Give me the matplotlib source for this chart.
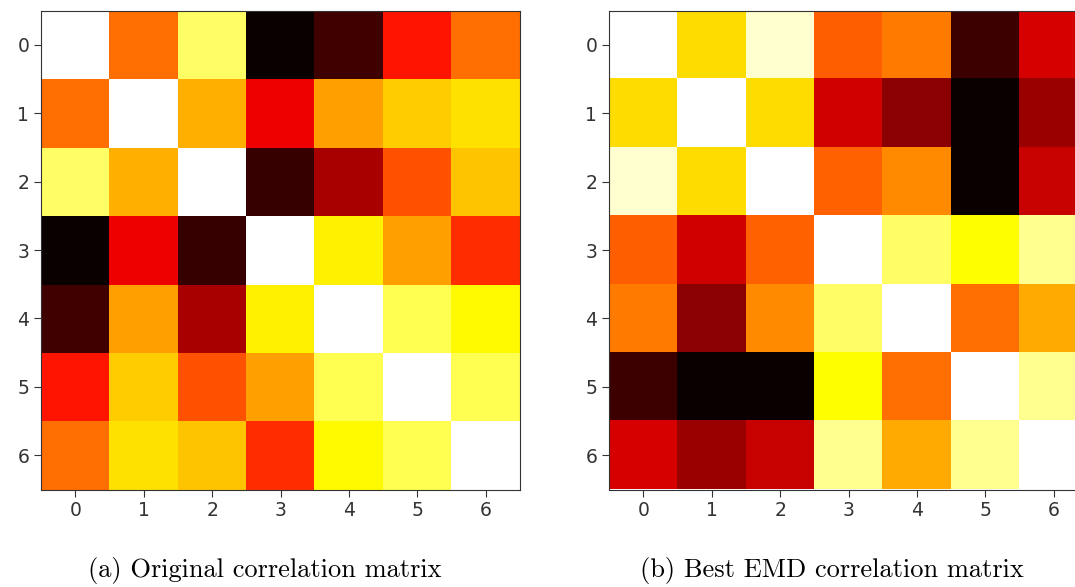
import numpy as np
import matplotlib
matplotlib.use('Agg')
import matplotlib.pyplot as plt

# values (0 = black, 1 = white)
original_corr = [
    [1.00, 0.53, 0.845, 0.00, 0.08, 0.395, 0.53],
    [0.53, 1.00, 0.628, 0.342, 0.604, 0.67, 0.70],
    [0.845, 0.628, 1.00, 0.07, 0.238, 0.485, 0.658],
    [0.00, 0.342, 0.07, 1.00, 0.724, 0.604, 0.43],
    [0.08, 0.604, 0.238, 0.724, 1.00, 0.825, 0.735],
    [0.395, 0.67, 0.485, 0.604, 0.825, 1.00, 0.825],
    [0.53, 0.70, 0.658, 0.43, 0.735, 0.825, 1.00],
]

emd_corr = [
    [1.00, 0.695, 0.95, 0.505, 0.548, 0.075, 0.307],
    [0.695, 1.00, 0.695, 0.295, 0.192, 0.00, 0.217],
    [0.95, 0.695, 1.00, 0.508, 0.574, 0.00, 0.283],
    [0.505, 0.295, 0.508, 1.00, 0.845, 0.746, 0.89],
    [0.548, 0.192, 0.574, 0.845, 1.00, 0.53, 0.619],
    [0.075, 0.00, 0.00, 0.746, 0.53, 1.00, 0.89],
    [0.307, 0.217, 0.283, 0.89, 0.619, 0.89, 1.00],
]

tick_labels = ['0', '1', '2', '3', '4', '5', '6']
captions = ['(a) Original correlation matrix', '(b) Best EMD correlation matrix']

W, H = 1075, 587
fig = plt.figure(figsize=(W / 100, H / 100), dpi=100)

# axes boxes in pixels: left, top, size
boxes = [(41, 10.5, 479), (609, 10.5, 479)]
caption_x = [265, 832]

for mat, (left, top, size), cap, cx in zip([original_corr, emd_corr], boxes, captions, caption_x):
    ax = fig.add_axes([left / W, 1 - (top + size) / H, size / W, size / H])
    ax.imshow(np.array(mat), cmap='hot', vmin=0, vmax=1, interpolation='nearest')
    ax.set_xticks(range(len(tick_labels)))
    ax.set_yticks(range(len(tick_labels)))
    ax.set_xticklabels(tick_labels)
    ax.set_yticklabels(tick_labels)
    ax.tick_params(labelsize=13.5, length=5, colors='#333333', labelcolor='#333333')
    for s in ax.spines.values():
        s.set_color('#333333')
    fig.text(cx / W, 1 - 570 / H, cap, ha='center', va='center',
             fontfamily='cmr10', fontsize=19)

plt.savefig('out.png', dpi=100)
